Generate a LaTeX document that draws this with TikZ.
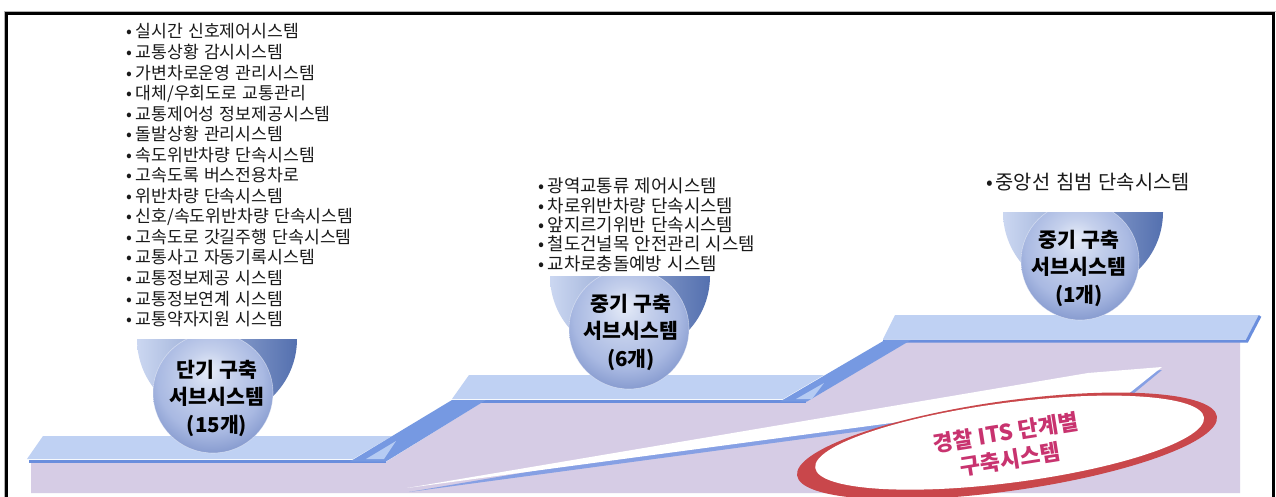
\documentclass[tikz,border=0pt]{standalone}
\usepackage{fontspec}
\newfontfamily\kr{Noto Sans CJK KR}
\definecolor{lilac}{HTML}{D6CCE5}
\definecolor{slab}{HTML}{BFD1F3}
\definecolor{edgeblue}{HTML}{6A8EDD}
\definecolor{rampblue}{HTML}{7699E2}
\definecolor{sliver}{HTML}{B5CBF3}
\definecolor{ringred}{HTML}{C9474B}
\definecolor{ringtext}{HTML}{C8336F}
\definecolor{orbhi}{HTML}{E6ECF8}
\definecolor{orbmid}{HTML}{A9B9E2}
\definecolor{orblow}{HTML}{6880BE}
\definecolor{bowlL}{HTML}{CBD7F1}
\definecolor{bowlM}{HTML}{96A9D8}
\definecolor{bowlR}{HTML}{5470AF}
\definecolor{arrowshadow}{HTML}{86A0E4}
\definecolor{ink}{HTML}{1A1A1A}
\pgfdeclareradialshading{orb}{\pgfpoint{-2bp}{10bp}}{color(0bp)=(orbhi); color(10bp)=(orbmid!55!orbhi); color(22bp)=(orbmid); color(36bp)=(orblow); color(50bp)=(orblow)}
\newcommand\itm{\makebox[9.5pt][l]{•}}
\newcommand\listfont[2]{\kr\fontsize{#1}{#2}\selectfont\spaceskip=0.3em plus 0.1em\relax}
\tikzset{
  listtext/.style={anchor=north west, inner sep=0pt, align=left, text=ink,
    font=\listfont{17.2}{20.55}},
  orbball/.style={circle, inner sep=0pt, minimum size=#1, shade, shading=orb,
    draw=white, draw opacity=0.45, line width=0.6pt},
  orblabel/.style={align=center, inner sep=0pt, text=black,
    font=\kr\bfseries\fontsize{20.5}{27.5}\selectfont},
  frameline/.style={line width=3pt, black},
}
\begin{document}
\begin{tikzpicture}[x=1pt,y=-1pt]
\useasboundingbox (0,0) rectangle (1276,497);
\fill[white] (0,0) rectangle (1276,497);

% frame: top, left and right rules
\draw[gray!60, line width=1pt] (4,497) -- (4,11.2) -- (1276,11.2);
\draw[frameline] (6.5,497) -- (6.5,13.5) -- (1273.5,13.5) -- (1273.5,497);

% lilac body under the three steps
\fill[lilac] (31,462) -- (386,462) -- (484,401) -- (806,401) -- (909,341)
  -- (1240,341) -- (1240,493) -- (31,493) -- cycle;

% step slabs
\fill[slab] (27,459) -- (43,436) -- (392,436) -- (353,459) -- cycle;
\fill[slab] (452,399) -- (469,375) -- (824,375) -- (783,399) -- cycle;
\fill[slab] (883,339) -- (895,315) -- (1260,315) -- (1247,339) -- cycle;
\draw[edgeblue, line width=3pt] (29,461) -- (386,461);
\draw[edgeblue, line width=3pt] (452,401) -- (806,401);
\draw[edgeblue, line width=3pt] (883,341) -- (1247,341) -- (1260,316);

% ramps between the steps
\fill[rampblue] (350,461.5) -- (452,400) -- (486,400) -- (386,461.5) -- cycle;
\fill[sliver] (366,459) -- (396,441) -- (384,459) -- cycle;
\fill[rampblue] (780,401.5) -- (885,340) -- (911,340) -- (807,401.5) -- cycle;
\fill[sliver] (796,399) -- (824,383) -- (812,399) -- cycle;

% rising arrow
\fill[arrowshadow] (409,492) -- (1088,377) -- (1162,370) -- (1127,399) -- (1115,397) -- cycle;
\fill[white] (407,488) -- (1088,373) -- (1162,367) -- (1127,395) -- (1115,393) -- cycle;

% red swoosh ring with its label
\fill[ringred, rotate around={8:(1007,446)}] (1007,446) ellipse [x radius=212pt, y radius=45pt];
\fill[white, rotate around={7.4:(1007,446)}] (1010,443) ellipse [x radius=196pt, y radius=40pt];
\node[rotate=9, align=center, inner sep=0pt, text=ringtext,
  font=\kr\bfseries\fontsize{22}{27}\selectfont] (ringlabel) at (1008,446)
  {경찰 ITS 단계별\\구축시스템};

% short-term sphere
\begin{scope}
  \clip (120,339) rectangle (320,470);
  \shade[left color=bowlL, middle color=bowlM, right color=bowlR] (217,339) circle (80pt);
  \node[orbball=120pt] (orb1) at (213,393) {};
\end{scope}
\node[orblabel] (label1) at (217,398) {단기 구축\\서브시스템\\(15개)};

% mid-term sphere
\begin{scope}
  \clip (540,276) rectangle (720,400);
  \shade[left color=bowlL, middle color=bowlM, right color=bowlR] (630,276) circle (80pt);
  \node[orbball=120pt] (orb2) at (629,329) {};
\end{scope}
\node[orblabel] (label2) at (631,332) {중기 구축\\서브시스템\\(6개)};

% second mid-term sphere
\begin{scope}
  \clip (990,212) rectangle (1175,330);
  \shade[left color=bowlL, middle color=bowlM, right color=bowlR] (1083,212) circle (80pt);
  \node[orbball=118pt] (orb3) at (1080,261) {};
\end{scope}
\node[orblabel] (label3) at (1079,268) {중기 구축\\서브시스템\\(1개)};

% subsystem lists
\node[listtext] (list1) at (126,23.5) {%
\itm 실시간 신호제어시스템\\
\itm 교통상황 감시시스템\\
\itm 가변차로운영 관리시스템\\
\itm 대체/우회도로 교통관리\\
\itm 교통제어성 정보제공시스템\\
\itm 돌발상황 관리시스템\\
\itm 속도위반차량 단속시스템\\
\itm 고속도록 버스전용차로\\
\itm 위반차량 단속시스템\\
\itm 신호/속도위반차량 단속시스템\\
\itm 고속도로 갓길주행 단속시스템\\
\itm 교통사고 자동기록시스템\\
\itm 교통정보제공 시스템\\
\itm 교통정보연계 시스템\\
\itm 교통약자지원 시스템};
\node[listtext, font=\listfont{17.8}{19.3}] (list2) at (538,178) {%
\itm 광역교통류 제어시스템\\
\itm 차로위반차량 단속시스템\\
\itm 앞지르기위반 단속시스템\\
\itm 철도건널목 안전관리 시스템\\
\itm 교차로충돌예방 시스템};
\node[listtext, font=\listfont{19.8}{21}] (list3) at (986,173) {\itm 중앙선 침범 단속시스템};
\end{tikzpicture}
\end{document}
